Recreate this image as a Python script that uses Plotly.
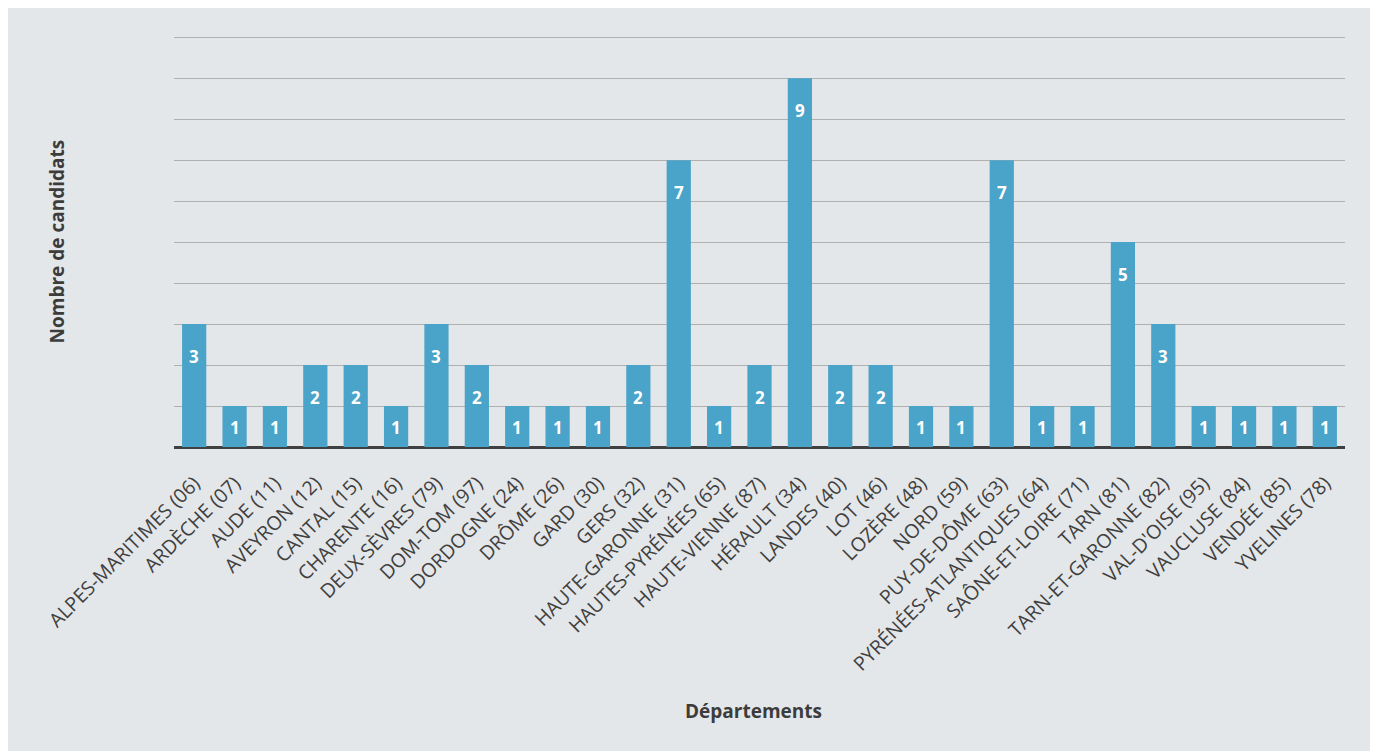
import plotly.graph_objects as go

departements = [
    "ALPES-MARITIMES (06)", "ARDÈCHE (07)", "AUDE (11)", "AVEYRON (12)", "CANTAL (15)",
    "CHARENTE (16)", "DEUX-SÈVRES (79)", "DOM-TOM (97)", "DORDOGNE (24)", "DRÔME (26)",
    "GARD (30)", "GERS (32)", "HAUTE-GARONNE (31)", "HAUTES-PYRÉNÉES (65)", "HAUTE-VIENNE (87)",
    "HÉRAULT (34)", "LANDES (40)", "LOT (46)", "LOZÈRE (48)", "NORD (59)",
    "PUY-DE-DÔME (63)", "PYRÉNÉES-ATLANTIQUES (64)", "SAÔNE-ET-LOIRE (71)", "TARN (81)",
    "TARN-ET-GARONNE (82)", "VAL-D'OISE (95)", "VAUCLUSE (84)", "VENDÉE (85)", "YVELINES (78)",
]
candidats = [3, 1, 1, 2, 2, 1, 3, 2, 1, 1, 1, 2, 7, 1, 2, 9, 2, 2, 1, 1, 7, 1, 1, 5, 3, 1, 1, 1, 1]

FONT = "Open Sans"

fig = go.Figure(go.Bar(
    x=departements, y=candidats,
    marker=dict(color="#4aa3c8", line=dict(width=0)),
    hoverinfo="x+y",
))

# data labels, placed inside the top of each bar
for d, v in zip(departements, candidats):
    fig.add_annotation(
        x=d, y=v, xref="x", yref="y", text=f"<b>{v}</b>",
        showarrow=False, yanchor="top", yshift=-(8 if v == 1 else 19),
        font=dict(family=FONT, size=17, color="white"),
    )

fig.update_layout(
    width=1370, height=743,
    margin=dict(l=166, r=33, t=28, b=304),
    paper_bgcolor="#e4e7e9", plot_bgcolor="rgba(0,0,0,0)",
    bargap=0.4, showlegend=False,
    font=dict(family=FONT, color="#3c3c3c"),
)
fig.update_xaxes(
    tickangle=-45, tickfont=dict(family=FONT, size=19.5, color="#404040"),
    showgrid=False, showline=False, ticks="", ticklabelstandoff=20,
)
fig.update_yaxes(
    range=[0, 10.03], tickvals=list(range(0, 11)), showticklabels=False, ticks="",
    showgrid=True, gridcolor="#b0b0b0", gridwidth=1,
    zeroline=True, zerolinecolor="#404040", zerolinewidth=3,
)
fig.add_annotation(text="<b>Nombre de candidats</b>", xref="paper", yref="paper",
                   x=-0.10, y=0.5, xanchor="center", yanchor="middle", textangle=-90,
                   showarrow=False, font=dict(family=FONT, size=19, color="#3c3c3c"))
fig.add_annotation(text="<b>Départements</b>", xref="paper", yref="paper",
                   x=0.495, y=-0.642, xanchor="center", yanchor="middle",
                   showarrow=False, font=dict(family=FONT, size=19, color="#3c3c3c"))

fig.write_html("out.html")
